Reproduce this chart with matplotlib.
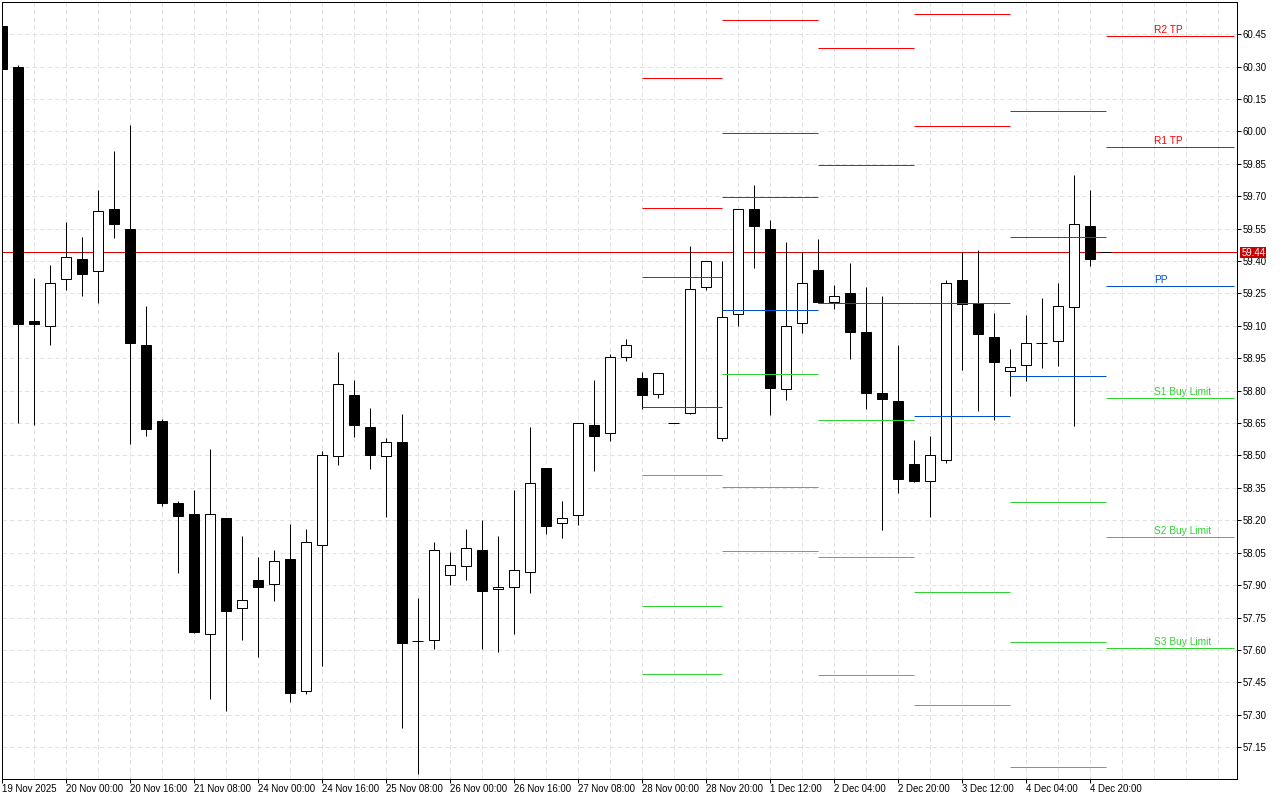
# 4h candlestick chart with pivot levels, drawn in the style of a trading terminal.
import matplotlib
matplotlib.use('Agg')
import matplotlib.pyplot as plt
from matplotlib.patches import Rectangle

PX = 0.72  # one pixel at dpi 100, in points

opens = [60.487, 60.299, 59.122, 59.100, 59.316, 59.409, 59.353, 59.640, 59.548, 59.011,
         58.659, 58.280, 58.229, 57.675, 58.210, 57.795, 57.923, 57.905, 58.020, 57.411,
         58.085, 58.497, 58.779, 58.631, 58.497, 58.562, 57.641, 57.644, 57.945, 57.987,
         58.062, 57.883, 57.892, 57.962, 58.442, 58.186, 58.223, 58.641, 58.602, 58.954,
         58.858, 58.783, 58.650, 58.695, 59.282, 58.582, 59.153, 59.640, 59.548, 58.806,
         59.111, 59.358, 59.211, 59.251, 59.071, 58.789, 58.752, 58.460, 58.383, 58.480,
         59.312, 59.204, 59.048, 58.892, 58.921, 59.020, 59.031, 59.185, 59.561, 59.440]
highs = [60.489, 60.309, 59.323, 59.383, 59.582, 59.513, 59.730, 59.911, 60.031, 59.194,
         58.671, 58.291, 58.342, 58.532, 58.212, 58.125, 58.032, 58.064, 58.185, 58.161,
         58.522, 58.981, 58.851, 58.722, 58.583, 58.694, 57.842, 58.101, 58.055, 58.161,
         58.203, 58.125, 58.342, 58.634, 58.444, 58.291, 58.652, 58.851, 58.971, 59.041,
         58.884, 58.882, 58.650, 59.471, 59.400, 59.402, 59.641, 59.753, 59.592, 59.490,
         59.443, 59.504, 59.291, 59.393, 59.281, 59.240, 59.013, 58.573, 58.592, 59.314,
         59.443, 59.453, 59.161, 58.995, 59.152, 59.231, 59.300, 59.800, 59.730, 59.440]
lows = [60.286, 58.652, 58.640, 59.010, 59.268, 59.237, 59.207, 59.508, 58.552, 58.589,
        58.268, 57.958, 57.680, 57.372, 57.319, 57.648, 57.569, 57.828, 57.361, 57.398,
        57.527, 58.458, 58.587, 58.439, 58.217, 57.241, 57.028, 57.603, 57.899, 57.922,
        57.603, 57.589, 57.672, 57.862, 58.138, 58.120, 58.180, 58.430, 58.569, 58.939,
        58.717, 58.768, 58.650, 58.692, 59.268, 58.569, 59.098, 59.369, 58.689, 58.758,
        59.069, 59.207, 59.180, 58.948, 58.717, 58.157, 58.328, 58.379, 58.217, 58.467,
        58.897, 58.708, 58.666, 58.777, 58.846, 58.907, 58.916, 58.638, 59.379, 59.440]
closes = [60.288, 59.109, 59.108, 59.298, 59.418, 59.339, 59.631, 59.571, 59.021, 58.622,
          58.280, 58.219, 57.683, 58.227, 57.781, 57.831, 57.891, 58.011, 57.400, 58.099,
          58.502, 58.830, 58.642, 58.502, 58.562, 57.632, 57.641, 58.061, 57.991, 58.070,
          57.872, 57.889, 57.968, 58.371, 58.173, 58.209, 58.648, 58.590, 58.958, 59.009,
          58.779, 58.880, 58.650, 59.269, 59.398, 59.139, 59.639, 59.561, 58.812, 59.097,
          59.296, 59.210, 59.236, 59.071, 58.789, 58.761, 58.391, 58.381, 58.500, 59.296,
          59.200, 59.062, 58.932, 58.908, 59.019, 59.020, 59.190, 59.569, 59.409, 59.440]

last_price = 59.44

# pivot levels per period: bars where the periods start and end, then prices
period_edges = [40, 45, 51, 57, 63, 69, 77]
red_levels = [[60.246, 59.645, 59.325],
              [60.515, 59.992, 59.696],
              [60.385, 59.844],
              [60.543, 60.024, 59.205],
              [60.094, 59.511],
              [60.441, 59.927]]
blue_levels = [58.724, 59.173, 59.205, 58.682, 58.867, 59.284]
green_levels = [[58.409, 57.803, 57.488],
                [58.876, 58.354, 58.057],
                [58.664, 58.030, 57.483],
                [57.868, 57.345],
                [58.284, 57.636, 57.058],
                [58.765, 58.122, 57.608]]

level_labels = ['R2 TP', 'R1 TP', 'PP', 'S1 Buy Limit', 'S2 Buy Limit', 'S3 Buy Limit']
level_label_prices = [60.469, 59.957, 59.312, 58.795, 58.152, 57.639]
level_label_colors = ['#ff0000', '#ff0000', '#0050d0', '#32d232', '#32d232', '#32d232']

y_ticks = [60.45, 60.30, 60.15, 60.00, 59.85, 59.70, 59.55, 59.40, 59.25, 59.10, 58.95, 58.80,
           58.65, 58.50, 58.35, 58.20, 58.05, 57.90, 57.75, 57.60, 57.45, 57.30, 57.15]
x_labels = ['19 Nov 2025', '20 Nov 00:00', '20 Nov 16:00', '21 Nov 08:00', '24 Nov 00:00',
            '24 Nov 16:00', '25 Nov 08:00', '26 Nov 00:00', '26 Nov 16:00', '27 Nov 08:00',
            '28 Nov 00:00', '28 Nov 20:00', '1 Dec 12:00', '2 Dec 04:00', '2 Dec 20:00',
            '3 Dec 12:00', '4 Dec 04:00', '4 Dec 20:00']

plt.rcParams['font.family'] = ['Liberation Sans', 'DejaVu Sans']
plt.rcParams['font.size'] = 6.9

W, H = 1280, 800
fig = plt.figure(figsize=(W / 100, H / 100), dpi=100)
ax = fig.add_axes([1.5 / W, 1 - 778.5 / H, 1235 / W, 777 / H])
ax.set_xlim(0, 1235 / 16)
ax.set_ylim(57.005, 60.601)

for s in ax.spines.values():
    s.set_linewidth(PX)
    s.set_color('black')

# grid
dash = (0, (4.5, 3))
for i in range(0, 78, 2):
    ax.axvline(i, color='#e2e2e2', lw=PX, ls=dash, zorder=0)
for p in y_ticks:
    ax.axhline(p, color='#e2e2e2', lw=PX, ls=dash, zorder=0)

# last price line
ax.axhline(last_price, color='#e00000', lw=PX, zorder=1)

# candles
for i in range(len(opens)):
    o, h, l, c = opens[i], highs[i], lows[i], closes[i]
    ax.vlines(i, l, h, color='black', lw=PX, zorder=2)
    if o == c:
        ax.hlines(o, i - 0.34, i + 0.34, color='black', lw=PX, zorder=3)
    else:
        face = 'white' if c > o else 'black'
        ax.bar(i, abs(c - o), bottom=min(o, c), width=0.625, color=face, edgecolor='black',
               linewidth=PX, zorder=3)

# pivot levels
for k in range(len(red_levels)):
    x0, x1 = period_edges[k], period_edges[k + 1]
    ax.hlines(red_levels[k], x0, x1, color='#ff0000', lw=PX, zorder=4)
    ax.hlines(blue_levels[k], x0, x1, color='#0050d0', lw=PX, zorder=4)
    ax.hlines(green_levels[k], x0, x1, color='#32d232', lw=PX, zorder=4)

for t, p, col in zip(level_labels, level_label_prices, level_label_colors):
    ax.text(72.06, p, t, color=col, fontsize=7.3, ha='left', va='center', zorder=5)

# axes
ax.yaxis.tick_right()
ax.set_yticks(y_ticks)
ax.set_yticklabels([f'{p:.2f}' for p in y_ticks], va='center_baseline')
ax.set_xticks(range(0, 69, 4))
ax.set_xticklabels(x_labels, ha='left')
ax.tick_params(axis='y', length=2.9, width=PX, pad=1.4)
ax.tick_params(axis='x', length=2.9, width=PX, pad=0.8)

# last price tag on the scale
trans = ax.get_yaxis_transform()
ax.add_patch(Rectangle((1.0025, last_price - 0.024), 0.0215, 0.048, transform=trans, fc='#c80000',
                       ec='none', clip_on=False, zorder=6))
ax.text(1.0045, last_price, f'{last_price:.2f}', transform=trans, color='white', ha='left',
        va='center_baseline', clip_on=False, zorder=7)

fig.savefig('out.png', dpi=100)
plt.close(fig)
